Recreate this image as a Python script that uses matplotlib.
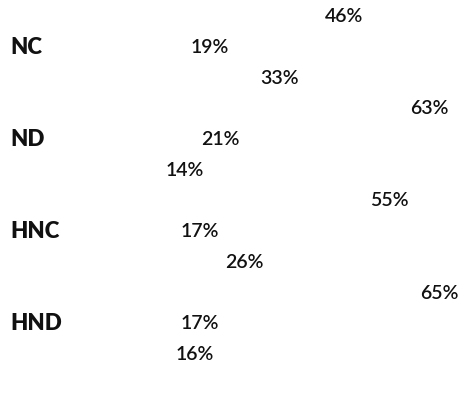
import matplotlib.pyplot as plt
import numpy as np

categories = ["NC", "ND", "HNC", "HND"]
series_a = [46, 63, 55, 65]
series_b = [19, 21, 17, 17]
series_c = [33, 14, 26, 16]

fig = plt.figure(figsize=(4.62, 4.01), dpi=100)
ax = fig.add_axes([0, 0, 1, 1])

n = len(categories)
pos = np.arange(n) * 3
for k, vals in enumerate([series_a, series_b, series_c]):
    y = pos + k
    # bars are white in the original, only the labels show
    ax.barh(y, vals, height=0.8, color="white")
    for yy, v in zip(y, vals):
        ax.text(v + 0.6, yy + 0.05, "%d%%" % v, ha="left", va="center",
                fontsize=14, fontweight="semibold", family="Lato",
                color="#111111")

for p, c in zip(pos, categories):
    ax.text(10 / 462, p + 1.05, c, transform=ax.get_yaxis_transform(),
            ha="left", va="center", fontsize=16, fontweight="heavy",
            family="Lato", color="#111111")

ax.set_xlim(-18.7, 74.1)
ax.set_ylim(12.56, -0.49)
ax.axis("off")

fig.savefig("out.png", dpi=100, facecolor="white")
